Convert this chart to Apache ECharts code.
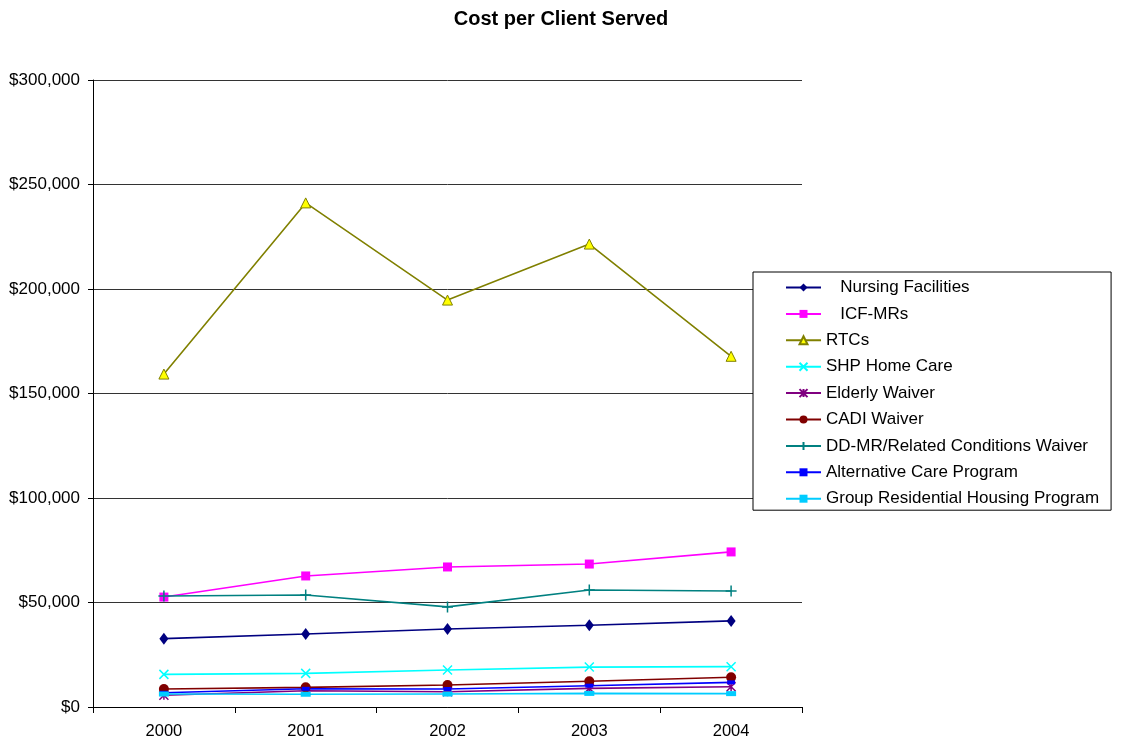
<!DOCTYPE html>
<html>
<head>
<meta charset="utf-8">
<script src="https://cdn.jsdelivr.net/npm/echarts@6/dist/echarts.min.js"></script>
<style>
  html, body { margin: 0; padding: 0; background: #fff; }
  #chart { width: 1122px; height: 742px; }
</style>
</head>
<body>
<div id="chart"></div>
<script>
// Program years
const years = ['2000', '2001', '2002', '2003', '2004'];

// Cost per client served, in dollars
const nursingFacilities = [32700, 34900, 37300, 39100, 41200];
const icfMRs = [52600, 62700, 67000, 68400, 74200];
const rtcs = [159300, 241200, 194700, 221500, 167800];
const shpHomeCare = [15600, 16100, 17700, 19100, 19300];
const elderlyWaiver = [5600, 7800, 7300, 8900, 9700];
const cadiWaiver = [8600, 9400, 10500, 12300, 14200];
const ddmrWaiver = [53100, 53600, 47900, 56000, 55500];
const alternativeCare = [6800, 8700, 8600, 10200, 11800];
const groupResidential = [6200, 6100, 6200, 6500, 6400];

// Value axis ticks
const yMin = 0, yMax = 300000, yStep = 50000;

const FONT = 'Liberation Sans, Arial, sans-serif';
const X_PATH = 'path://M0,0L10,10M10,0L0,10';
const STAR_PATH = 'path://M0,0L10,10M10,0L0,10M5,0L5,10';
const PLUS_PATH = 'path://M5,0L5,10M0,5L10,5';

function mkSeries(name, data, color, symbol, size, extra) {
  const s = {
    name: name,
    type: 'line',
    data: data,
    symbol: symbol,
    symbolSize: size,
    showAllSymbol: true,
    lineStyle: { color: color, width: 1.6 },
    itemStyle: { color: color, borderColor: color, borderWidth: 0 },
    emphasis: { disabled: true },
    animation: false
  };
  return Object.assign(s, extra || {});
}

const series = [
  mkSeries('   Nursing Facilities', nursingFacilities, '#000080', 'diamond', [9, 12]),
  mkSeries('   ICF-MRs', icfMRs, '#FF00FF', 'rect', 9),
  mkSeries('RTCs', rtcs, '#808000', 'triangle', 10, {
    itemStyle: { color: '#FFFF00', borderColor: '#808000', borderWidth: 1 }
  }),
  mkSeries('SHP Home Care', shpHomeCare, '#00FFFF', X_PATH, 9, {
    itemStyle: { color: 'none', borderColor: '#00FFFF', borderWidth: 1.5 }
  }),
  mkSeries('Elderly Waiver', elderlyWaiver, '#800080', STAR_PATH, 9, {
    itemStyle: { color: 'none', borderColor: '#800080', borderWidth: 1.5 }
  }),
  mkSeries('CADI Waiver', cadiWaiver, '#800000', 'circle', 10),
  mkSeries('DD-MR/Related Conditions Waiver', ddmrWaiver, '#008080', PLUS_PATH, 11, {
    itemStyle: { color: 'none', borderColor: '#008080', borderWidth: 1.5 }
  }),
  mkSeries('Alternative Care Program', alternativeCare, '#0000FF', 'rect', [8, 4]),
  mkSeries('Group Residential Housing Program', groupResidential, '#00CCFF', 'rect', [10, 5])
];

const chart = echarts.init(document.getElementById('chart'), null, { renderer: 'canvas' });
chart.setOption({
  backgroundColor: '#ffffff',
  animation: false,
  textStyle: { fontFamily: FONT },
  title: {
    text: 'Cost per Client Served',
    left: 'center',
    top: 4,
    textStyle: { fontFamily: FONT, fontSize: 20, fontWeight: 'bold', color: '#000' }
  },
  grid: { left: 93, right: 320, top: 80, bottom: 35, containLabel: false },
  legend: {
    orient: 'vertical',
    left: 753,
    top: 272,
    padding: [7, 12, 3, 32],
    itemGap: 9.4,
    itemWidth: 35,
    itemHeight: 10,
    borderColor: '#000',
    borderWidth: 1,
    backgroundColor: '#fff',
    textStyle: { fontFamily: FONT, fontSize: 17, lineHeight: 17, color: '#000' },
    data: series.map(s => s.name)
  },
  xAxis: {
    type: 'category',
    data: years,
    boundaryGap: true,
    axisLine: { show: true, lineStyle: { color: '#000', width: 1 } },
    axisTick: { show: true, inside: false, length: 6, lineStyle: { color: '#000' } },
    axisLabel: { color: '#000', fontSize: 16.5, margin: 16, fontFamily: FONT },
    splitLine: { show: false }
  },
  yAxis: {
    type: 'value',
    min: yMin,
    max: yMax,
    interval: yStep,
    axisLine: { show: true, lineStyle: { color: '#000', width: 1 } },
    axisTick: { show: true, inside: false, length: 5, lineStyle: { color: '#000' } },
    axisLabel: {
      color: '#000',
      fontSize: 17,
      margin: 13,
      fontFamily: FONT,
      formatter: v => '$' + v.toLocaleString('en-US')
    },
    splitLine: { show: true, lineStyle: { color: '#333', width: 1 } }
  },
  series: series
});
</script>
</body>
</html>
